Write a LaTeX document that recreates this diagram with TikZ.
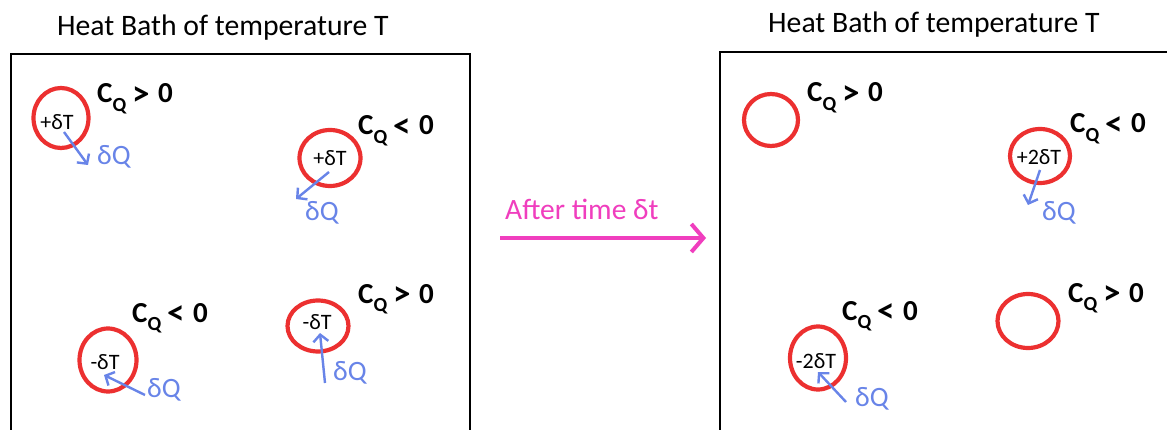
\documentclass[tikz,border=0pt]{standalone}
\usepackage{fontspec}
\setmainfont{Carlito}
\usetikzlibrary{shapes.geometric,arrows.meta}
\definecolor{ringred}{RGB}{236,48,48}
\definecolor{qblue}{RGB}{104,132,232}
\definecolor{tpink}{RGB}{240,62,190}
\newcommand{\cqlab}[1]{\textbf{C\raisebox{-0.28em}{\fontsize{20}{20}\selectfont Q}\hspace{0.2em}\raisebox{-2.5pt}{\fontsize{35}{35}\selectfont #1}\hspace{0.3em}0}}
\tikzset{
  ring/.style={ellipse, draw=ringred, line width=4.2pt, inner sep=0pt},
  inner/.style={inner sep=0pt, font=\fontsize{22}{22}\selectfont},
  title/.style={inner sep=0pt, anchor=base west, font=\fontsize{29.7}{29}\selectfont},
  cq/.style={inner sep=0pt, anchor=base west, font=\fontsize{29}{29}\selectfont},
  dq/.style={inner sep=0pt, anchor=base west, text=qblue, font=\fontsize{28}{28}\selectfont},
  qarrow/.style={draw=qblue, line width=2.4pt, -{Straight Barb[length=7pt,width=15pt,line width=2.4pt]}},
  bath/.style={draw=black, line width=2pt},
}
\begin{document}
\begin{tikzpicture}[x=1pt,y=-1pt]
\useasboundingbox[fill=white] (0,0) rectangle (1167,430);
% titles
\node[title] (tl) at (57,36) {Heat Bath of temperature T};
\node[title] (tr) at (768,33) {Heat Bath of temperature T};
% boxes
\coordinate (lbl) at (11,436); \coordinate (ltl) at (11,54);
\coordinate (ltr) at (470,54); \coordinate (lbr) at (470,436);
\draw[bath] (lbl) -- (ltl) -- (ltr) -- (lbr);
\coordinate (rbl) at (720,436); \coordinate (rtl) at (720,52);
\coordinate (rtr) at (1175,52);
\draw[bath] (rbl) -- (rtl) -- (rtr);
% ---- left panel ----
\node[ring, minimum width=55pt, minimum height=60pt] (c1) at (61,118) {};
\node[inner] (t1) at (57,122) {+δT};
\node[cq] (q1) at (97,103) {\cqlab{>}};
\coordinate (a1s) at (64,132); \coordinate (a1e) at (88,165);
\draw[qarrow] (a1s) -- (a1e);
\node[dq] (d1) at (97,165) {δQ};

\node[ring, minimum width=61pt, minimum height=56pt] (c2) at (330,158) {};
\node[inner] (t2) at (330,158) {+δT};
\node[cq] (q2) at (358,135) {\cqlab{<}};
\coordinate (a2s) at (329,172); \coordinate (a2e) at (296,199);
\draw[qarrow] (a2s) -- (a2e);
\node[dq] (d2) at (305,221) {δQ};

\node[ring, minimum width=57pt, minimum height=63pt] (c3) at (108,360) {};
\node[inner] (t3) at (105,362) {-δT};
\node[cq] (q3) at (132,322) {\cqlab{<}};
\coordinate (a3s) at (145,395); \coordinate (a3e) at (104,375);
\draw[qarrow] (a3s) -- (a3e);
\node[dq] (d3) at (147,397) {δQ};

\node[ring, minimum width=61pt, minimum height=51pt] (c4) at (318,326) {};
\node[inner] (t4) at (317,322) {-δT};
\node[cq] (q4) at (358,303) {\cqlab{>}};
\coordinate (a4s) at (325,383); \coordinate (a4e) at (320,333);
\draw[qarrow] (a4s) -- (a4e);
\node[dq] (d4) at (333,380) {δQ};
% ---- middle arrow ----
\node[inner sep=0pt, anchor=base west, text=tpink, font=\fontsize{29.5}{29}\selectfont] (after) at (505,220) {After time δt};
\coordinate (ps) at (500,238); \coordinate (pe) at (706,238);
\draw[draw=tpink, line width=4pt, -{Straight Barb[length=12pt,width=28pt,line width=4pt]}] (ps) -- (pe);
% ---- right panel ----
\node[ring, minimum width=54pt, minimum height=52pt] (c5) at (771,120) {};
\node[cq] (q5) at (807,102) {\cqlab{>}};

\node[ring, minimum width=60pt, minimum height=54pt] (c6) at (1040,156) {};
\node[inner] (t6) at (1039,157) {+2δT};
\node[cq] (q6) at (1070,133) {\cqlab{<}};
\coordinate (a6s) at (1040,170); \coordinate (a6e) at (1028,205);
\draw[qarrow] (a6s) -- (a6e);
\node[dq] (d6) at (1042,221) {δQ};

\node[ring, minimum width=56pt, minimum height=63pt] (c7) at (818,358) {};
\node[inner] (t7) at (816,361) {-2δT};
\node[cq] (q7) at (842,320) {\cqlab{<}};
\coordinate (a7s) at (846,402); \coordinate (a7e) at (818,372);
\draw[qarrow] (a7s) -- (a7e);
\node[dq] (d7) at (855,406) {δQ};

\node[ring, minimum width=61pt, minimum height=54pt] (c8) at (1028,321) {};
\node[cq] (q8) at (1068,302) {\cqlab{>}};
\end{tikzpicture}
\end{document}
